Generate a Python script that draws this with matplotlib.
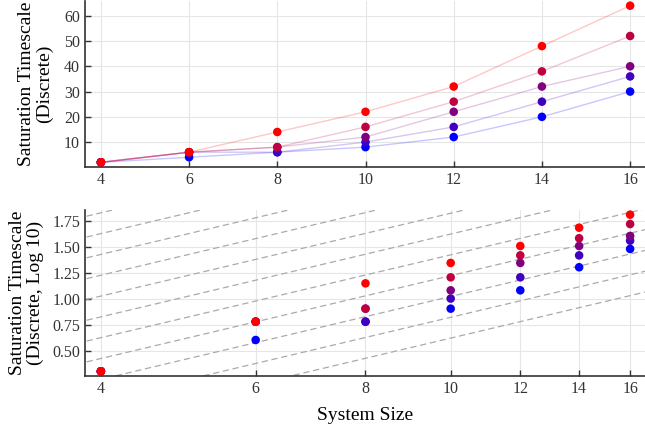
import matplotlib
matplotlib.use("Agg")
import matplotlib.pyplot as plt
import numpy as np

plt.rcParams["font.family"] = ["Liberation Serif", "DejaVu Serif"]

# ---- data ----
sizes = [4, 6, 8, 10, 12, 14, 16]
sat_blue = [2, 4, 6, 8, 12, 20, 30]
sat_indigo = [2, 6, 6, 10, 16, 26, 36]
sat_purple = [2, 6, 8, 12, 22, 32, 40]
sat_crimson = [2, 6, 8, 16, 26, 38, 52]
sat_red = [2, 6, 14, 22, 32, 48, 64]
series = [sat_blue, sat_indigo, sat_purple, sat_crimson, sat_red]
colors = ["#0000ff", "#4000bf", "#800080", "#bf0040", "#ff0000"]

# guide lines: log10(t) = 2*log10(L) + c
guide_offsets = [-0.78 + 0.2 * k for k in range(-3, 8)]

W, H = 645, 425
fig = plt.figure(figsize=(W / 100, H / 100), dpi=100)

def style(ax):
    for s in ["top", "right"]:
        ax.spines[s].set_visible(False)
    for s in ["left", "bottom"]:
        ax.spines[s].set_color("#333333")
        ax.spines[s].set_linewidth(1.2)
    ax.grid(True, color="#e6e6e6", lw=0.8, zorder=0)
    ax.tick_params(direction="in", length=4, width=1, colors="#333333",
                   labelsize=11.5, labelcolor="#333333")
    ax.set_axisbelow(True)

# ---- top panel ----
ax1 = fig.add_axes([85 / W, (H - 167) / H, 561 / W, 166 / H])
style(ax1)
for ys, c in zip(series, colors):
    ax1.plot(sizes, ys, color=c, lw=1.0, alpha=0.22, zorder=2)
for ys, c in zip(series, colors):
    ax1.scatter(sizes, ys, s=38, color=c, edgecolors="none", zorder=3)
ax1.set_xlim(3.64, 16.36)
ax1.set_ylim(0.14, 65.86)
ax1.set_xticks(sizes)
ax1.set_yticks([10, 20, 30, 40, 50, 60])
ax1.set_ylabel("Saturation Timescale\n(Discrete)", fontsize=14, linespacing=1.0)
ax1.yaxis.label.set_va("center")
ax1.yaxis.set_label_coords(-0.088, 0.5)

# ---- bottom panel (log x, log10 y) ----
ax2 = fig.add_axes([85 / W, (H - 376) / H, 561 / W, 166 / H])
style(ax2)
ax2.set_xscale("log")
xg = np.array([3.0, 20.0])
for c0 in guide_offsets:
    ax2.plot(xg, 2 * np.log10(xg) + c0, color="#aaaaaa", lw=0.9,
             ls=(0, (5, 3)), zorder=1)
for ys, c in zip(series, colors):
    ax2.scatter(sizes, np.log10(ys), s=38, color=c, edgecolors="none", zorder=3)
ax2.set_xlim(3.837, 16.68)
ax2.set_ylim(0.256, 1.851)
ax2.set_xticks(sizes)
ax2.set_xticklabels([str(v) for v in sizes])
ax2.xaxis.set_minor_locator(matplotlib.ticker.NullLocator())
ax2.set_yticks([0.5, 0.75, 1.0, 1.25, 1.5, 1.75])
ax2.set_yticklabels(["0.50", "0.75", "1.00", "1.25", "1.50", "1.75"])
ax2.set_ylabel("Saturation Timescale\n(Discrete, Log 10)", fontsize=14, linespacing=1.0)
ax2.yaxis.label.set_va("center")
ax2.yaxis.set_label_coords(-0.104, 0.5)
ax2.set_xlabel("System Size", fontsize=14, labelpad=7)

fig.savefig("out.png", dpi=100, facecolor="white")
